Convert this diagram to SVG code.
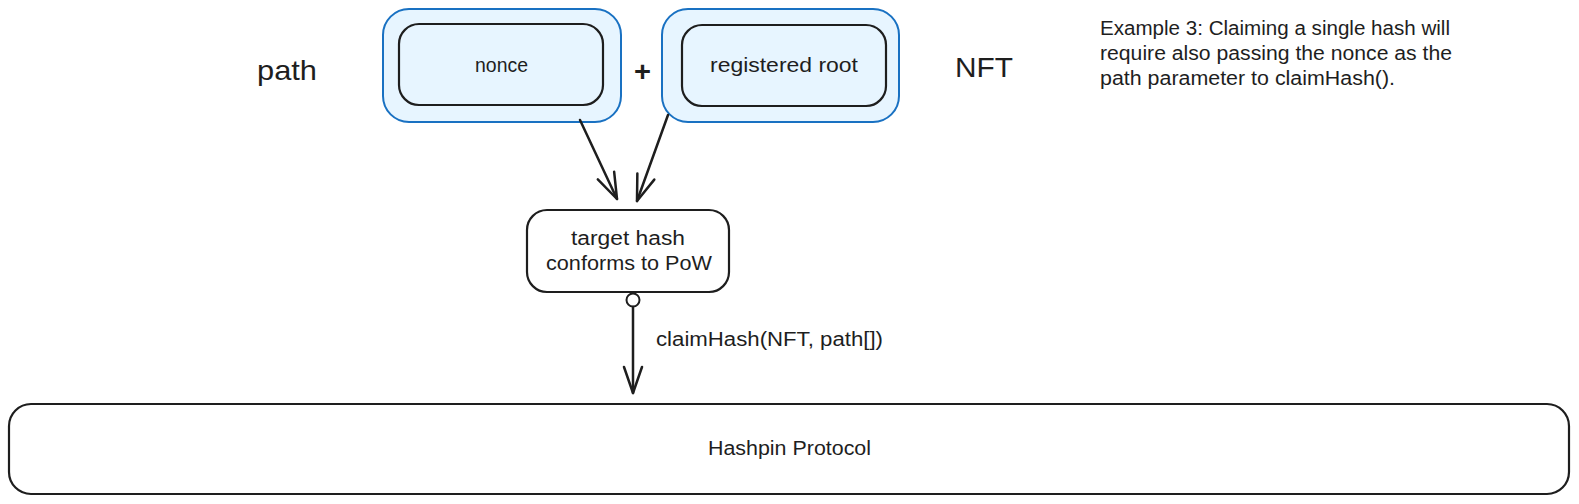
<svg xmlns="http://www.w3.org/2000/svg" width="1579" height="504" viewBox="0 0 1579 504">
  <style>
    .bg { fill: #ffffff; }
    .outer { fill: #e7f5ff; stroke: #1971c2; stroke-width: 2; }
    .inner { fill: none; stroke: #1e1e1e; stroke-width: 2.2; }
    .box { fill: #ffffff; stroke: #1e1e1e; stroke-width: 2.2; }
    .t { font-family: "Liberation Sans", Arial, sans-serif; font-size: 20px; fill: #1e1e1e; }
    .big { font-size: 28px; }
    .conn { fill: none; stroke: #1e1e1e; stroke-width: 2.5; stroke-linecap: round; }
  </style>
  <defs>
    <marker id="arrow" viewBox="-30 -12 32 24" markerWidth="32" markerHeight="24" refX="0" refY="0" orient="auto" markerUnits="userSpaceOnUse" overflow="visible">
      <path d="M -26 -9 L 0 0 L -26 9" fill="none" stroke="#1e1e1e" stroke-width="2.5" stroke-linecap="round" stroke-linejoin="round"/>
    </marker>
  </defs>
  <rect class="bg" x="0" y="0" width="1579" height="504"/>

  <g id="label-path">
    <text class="t big" x="257" y="80" textLength="60" lengthAdjust="spacingAndGlyphs">path</text>
  </g>

  <g id="node-nonce">
    <rect class="outer" x="383" y="9" width="238" height="113" rx="26"/>
    <rect class="inner" x="399" y="24" width="204" height="81" rx="20"/>
    <text class="t" x="501.5" y="72" text-anchor="middle" textLength="53" lengthAdjust="spacingAndGlyphs">nonce</text>
  </g>

  <g id="label-plus">
    <text class="t big" x="642.5" y="81" text-anchor="middle" font-weight="bold" textLength="17" lengthAdjust="spacingAndGlyphs">+</text>
  </g>

  <g id="node-registered-root">
    <rect class="outer" x="662" y="9" width="237" height="113" rx="26"/>
    <rect class="inner" x="682" y="25" width="204" height="81" rx="20"/>
    <text class="t" x="784" y="72" text-anchor="middle" textLength="148" lengthAdjust="spacingAndGlyphs">registered root</text>
  </g>

  <g id="label-nft">
    <text class="t big" x="955" y="77" textLength="58" lengthAdjust="spacingAndGlyphs">NFT</text>
  </g>

  <g id="note">
    <text class="t" x="1100" y="35" textLength="350" lengthAdjust="spacingAndGlyphs">Example 3: Claiming a single hash will</text>
    <text class="t" x="1100" y="60" textLength="352" lengthAdjust="spacingAndGlyphs">require also passing the nonce as the</text>
    <text class="t" x="1100" y="85" textLength="295" lengthAdjust="spacingAndGlyphs">path parameter to claimHash().</text>
  </g>

  <g id="node-target-hash">
    <rect class="box" x="527" y="210" width="202" height="82" rx="20"/>
    <text class="t" x="628" y="245" text-anchor="middle" textLength="114" lengthAdjust="spacingAndGlyphs">target hash</text>
    <text class="t" x="629" y="270" text-anchor="middle" textLength="166" lengthAdjust="spacingAndGlyphs">conforms to PoW</text>
  </g>

  <g id="node-hashpin-protocol">
    <rect class="box" x="9" y="404" width="1560" height="90" rx="22"/>
    <text class="t" x="789.5" y="455" text-anchor="middle" textLength="163" lengthAdjust="spacingAndGlyphs">Hashpin Protocol</text>
  </g>

  <g id="connectors">
    <path class="conn" d="M 580 120 L 617 199" marker-end="url(#arrow)"/>
    <path class="conn" d="M 668 115 L 637 201" marker-end="url(#arrow)"/>
    <circle cx="633" cy="300" r="6.5" fill="#ffffff" stroke="#1e1e1e" stroke-width="2"/>
    <path class="conn" d="M 633 307 L 633 393" marker-end="url(#arrow)"/>
    <text class="t" x="656" y="346" textLength="227" lengthAdjust="spacingAndGlyphs">claimHash(NFT, path[])</text>
  </g>
</svg>
